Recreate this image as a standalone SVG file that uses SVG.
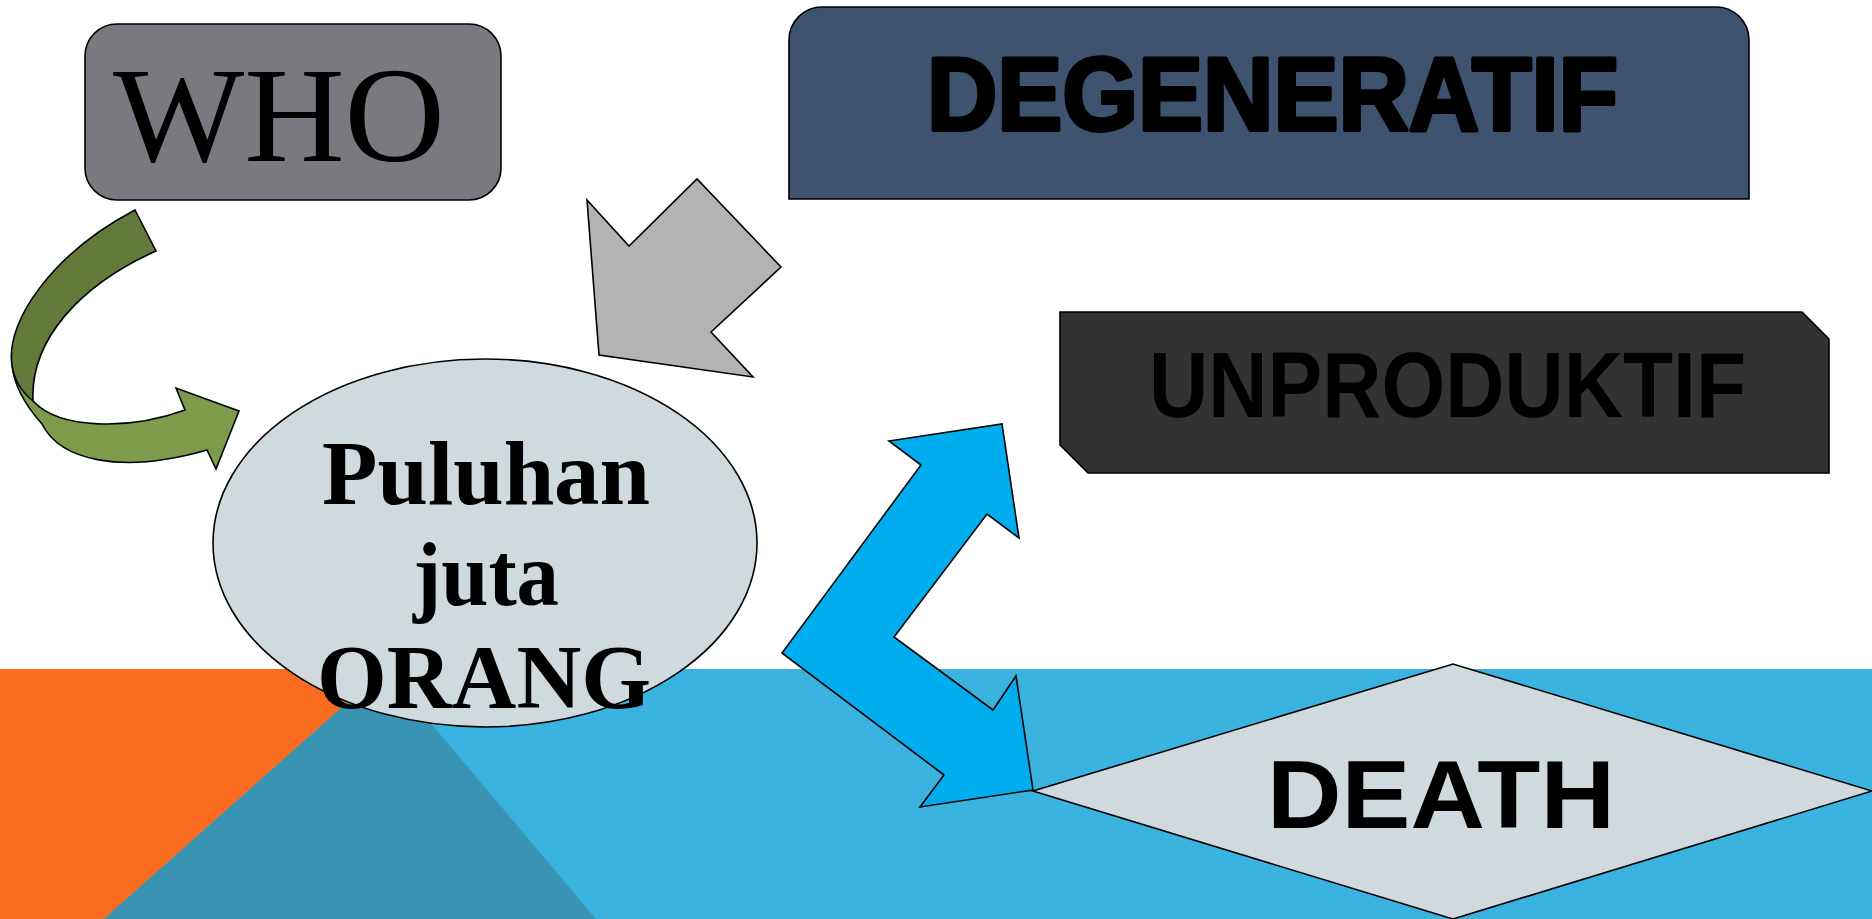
<svg xmlns="http://www.w3.org/2000/svg" width="1872" height="919" viewBox="0 0 1872 919">
<style>
.sk{stroke:#000;stroke-width:1.6;stroke-linejoin:miter}
.serif{font-family:"Liberation Serif","DejaVu Serif",serif;fill:#000}
.sans{font-family:"Liberation Sans","DejaVu Sans",sans-serif;font-weight:bold;fill:#000}
</style>
<rect x="0" y="0" width="1872" height="919" fill="#FFFFFF"/>
<g id="background">
<rect x="0" y="669" width="1872" height="250" fill="#3BB3E0"/>
<polygon points="0,669 385,669 104,919 0,919" fill="#F96B1E"/>
<polygon points="385,669 104,919 596,919" fill="#3994B3"/>
</g>
<g id="connectors">
<g id="arrow-green">
<path class="sk" fill="#7E9A4B" d="M12,365 C14,385 25,405 42,424 C60,460 120,475 207,450 L216,469 L239,411 L176,388 L185,410 C130,430 60,430 33,401 Z"/>
<path class="sk" fill="#637A3A" d="M135,210 C55,252 5,320 12,365 C14,380 22,392 33,401 C30,340 80,285 156,251 Z"/>
</g>
<polygon id="arrow-gray" class="sk" fill="#B3B3B1" points="587,200 629,246 697,179 781,267 711,332 753,377 599,355"/>
<polygon id="arrow-blue" class="sk" fill="#00AEEF" points="889,441 1002,424 1019,538 987,514 894,637 993,710 1016,676 1033,790 920,807 944,775 782,653 921,465"/>
</g>
<g id="node-who">
<rect class="sk" x="85" y="24" width="416" height="176" rx="32" ry="32" fill="#797A7F"/>
<text class="serif" x="113" y="161" font-size="136" textLength="332" lengthAdjust="spacingAndGlyphs">WHO</text>
</g>
<g id="node-degeneratif">
<path class="sk" fill="#3D5370" d="M822,7 H1716 A33,33 0 0 1 1749,40 V199 H789 V40 A33,33 0 0 1 822,7 Z"/>
<text class="sans" x="927" y="130" font-size="103" textLength="691" lengthAdjust="spacingAndGlyphs" stroke="#000" stroke-width="4" stroke-linejoin="round">DEGENERATIF</text>
</g>
<g id="node-unproduktif">
<polygon class="sk" fill="#323230" points="1060,312 1802,312 1829,339 1829,473 1088,473 1060,445"/>
<text class="sans" x="1149" y="417" font-size="92" textLength="597" lengthAdjust="spacingAndGlyphs">UNPRODUKTIF</text>
</g>
<g id="node-puluhan">
<ellipse class="sk" cx="485" cy="543" rx="272" ry="184" fill="#D0D9DD"/>
<text class="serif" font-weight="bold" font-size="90" x="322" y="504" textLength="328" lengthAdjust="spacingAndGlyphs">Puluhan</text>
<text class="serif" font-weight="bold" font-size="90" x="413" y="605" textLength="146" lengthAdjust="spacingAndGlyphs">juta</text>
<text class="serif" font-weight="bold" font-size="90" x="317" y="708" textLength="334" lengthAdjust="spacingAndGlyphs">ORANG</text>
</g>
<g id="node-death">
<polygon class="sk" fill="#D0D9DD" points="1033,791 1453,664 1872,791 1453,919"/>
<text class="sans" x="1267" y="828" font-size="96" textLength="348" lengthAdjust="spacingAndGlyphs">DEATH</text>
</g>
</svg>
